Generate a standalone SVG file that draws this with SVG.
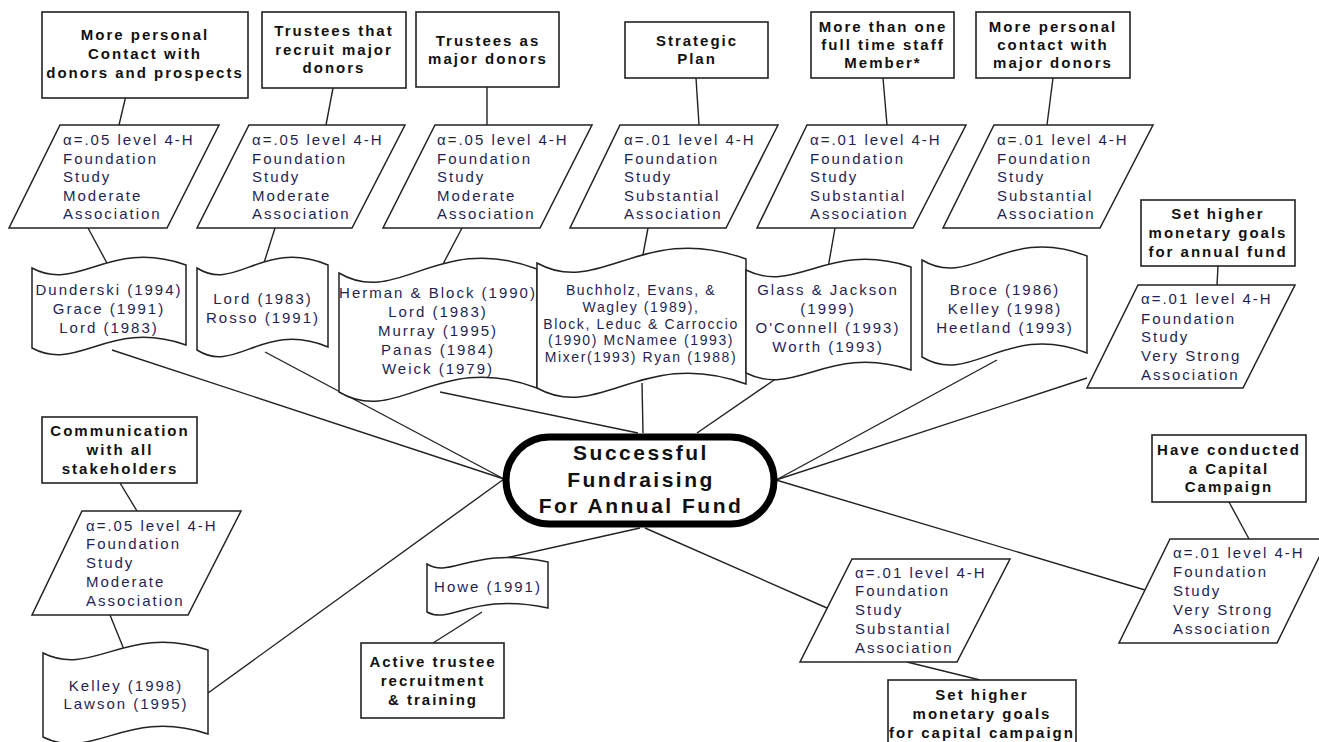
<svg xmlns="http://www.w3.org/2000/svg" width="1319" height="742" viewBox="0 0 1319 742">
<style>
.bg{fill:#ffffff}
.box{fill:#fff;stroke:#222;stroke-width:1.6}
.par{fill:#fff;stroke:#222;stroke-width:1.5}
.doc{fill:#fff;stroke:#222;stroke-width:1.5}
.ctr{fill:#fff;stroke:#000;stroke-width:7}
.ln{stroke:#222;stroke-width:1.4;fill:none}
.bt{font-family:"Liberation Sans",Arial,sans-serif;font-size:15px;font-weight:bold;fill:#111;letter-spacing:2px;text-anchor:middle}
.pt{font-family:"Liberation Sans",Arial,sans-serif;font-size:15px;fill:#1f1f55;letter-spacing:2px}
.dt{font-family:"Liberation Sans",Arial,sans-serif;font-size:15px;fill:#1f1f55;letter-spacing:2px;text-anchor:middle}
.dts{font-family:"Liberation Sans",Arial,sans-serif;font-size:14px;fill:#1f1f55;letter-spacing:1.6px;text-anchor:middle}
.ct{font-family:"Liberation Sans",Arial,sans-serif;font-size:21px;font-weight:bold;fill:#111;letter-spacing:2.5px;text-anchor:middle}
</style>
<rect class="bg" x="0" y="0" width="1319" height="742"/>
<g id="connectors">
<line class="ln" x1="128" y1="87" x2="119" y2="125"/>
<line class="ln" x1="88" y1="228" x2="108" y2="265"/>
<line class="ln" x1="112" y1="350" x2="504" y2="479"/>
<line class="ln" x1="333" y1="88" x2="326" y2="125"/>
<line class="ln" x1="275" y1="228" x2="263" y2="266"/>
<line class="ln" x1="265" y1="352" x2="504" y2="479"/>
<line class="ln" x1="487" y1="87" x2="487" y2="125"/>
<line class="ln" x1="462" y1="228" x2="442" y2="266"/>
<line class="ln" x1="440" y1="392" x2="638" y2="433"/>
<line class="ln" x1="696" y1="78" x2="699" y2="125"/>
<line class="ln" x1="648" y1="228" x2="642" y2="260"/>
<line class="ln" x1="642" y1="383" x2="643" y2="433"/>
<line class="ln" x1="883" y1="78" x2="887" y2="125"/>
<line class="ln" x1="835" y1="228" x2="828" y2="268"/>
<line class="ln" x1="777" y1="378" x2="697" y2="433"/>
<line class="ln" x1="1053" y1="78" x2="1047" y2="125"/>
<line class="ln" x1="997" y1="360" x2="776" y2="480"/>
<line class="ln" x1="1218" y1="266" x2="1217" y2="285"/>
<line class="ln" x1="1087" y1="378" x2="776" y2="480"/>
<line class="ln" x1="1229" y1="502" x2="1249" y2="539"/>
<line class="ln" x1="1145" y1="590" x2="776" y2="480"/>
<line class="ln" x1="827" y1="608" x2="645" y2="528"/>
<line class="ln" x1="907" y1="662" x2="980" y2="680"/>
<line class="ln" x1="488" y1="562" x2="640" y2="528"/>
<line class="ln" x1="482" y1="612" x2="433" y2="643"/>
<line class="ln" x1="208" y1="693" x2="504" y2="479"/>
<line class="ln" x1="120" y1="483" x2="137" y2="511"/>
<line class="ln" x1="110" y1="615" x2="125" y2="652"/>
</g>

<g id="box-contact-donors">
<rect class="box" x="42" y="12" width="206" height="86"/>
<text class="bt" x="145" y="40">More personal</text>
<text class="bt" x="145" y="59">Contact with</text>
<text class="bt" x="145" y="78">donors and prospects</text>
</g>
<g id="box-trustees-recruit">
<rect class="box" x="262" y="12" width="144" height="76"/>
<text class="bt" x="334" y="36">Trustees that</text>
<text class="bt" x="334" y="55">recruit major</text>
<text class="bt" x="334" y="73">donors</text>
</g>
<g id="box-trustees-donors">
<rect class="box" x="416" y="12" width="143" height="75"/>
<text class="bt" x="488" y="46">Trustees as</text>
<text class="bt" x="488" y="64">major donors</text>
</g>
<g id="box-strategic">
<rect class="box" x="625" y="22" width="143" height="56"/>
<text class="bt" x="697" y="46">Strategic</text>
<text class="bt" x="697" y="64">Plan</text>
</g>
<g id="box-staff">
<rect class="box" x="811" y="12" width="143" height="66"/>
<text class="bt" x="883" y="32">More than one</text>
<text class="bt" x="883" y="50">full time staff</text>
<text class="bt" x="883" y="68">Member*</text>
</g>
<g id="box-contact-major">
<rect class="box" x="976" y="12" width="154" height="66"/>
<text class="bt" x="1053" y="32">More personal</text>
<text class="bt" x="1053" y="50">contact with</text>
<text class="bt" x="1053" y="68">major donors</text>
</g>

<g id="par-1">
<polygon class="par" points="60,125 219,125 167,228 9,228"/>
<text class="pt" x="63" y="145">α=.05 level 4-H</text>
<text class="pt" x="63" y="164">Foundation</text>
<text class="pt" x="63" y="182">Study</text>
<text class="pt" x="63" y="201">Moderate</text>
<text class="pt" x="63" y="219">Association</text>
</g>
<g id="par-2">
<polygon class="par" points="249,125 405,125 352,228 197,228"/>
<text class="pt" x="252" y="145">α=.05 level 4-H</text>
<text class="pt" x="252" y="164">Foundation</text>
<text class="pt" x="252" y="182">Study</text>
<text class="pt" x="252" y="201">Moderate</text>
<text class="pt" x="252" y="219">Association</text>
</g>
<g id="par-3">
<polygon class="par" points="435,125 592,125 540,228 383,228"/>
<text class="pt" x="437" y="145">α=.05 level 4-H</text>
<text class="pt" x="437" y="164">Foundation</text>
<text class="pt" x="437" y="182">Study</text>
<text class="pt" x="437" y="201">Moderate</text>
<text class="pt" x="437" y="219">Association</text>
</g>
<g id="par-4">
<polygon class="par" points="620,125 778,125 726,228 570,228"/>
<text class="pt" x="624" y="145">α=.01 level 4-H</text>
<text class="pt" x="624" y="164">Foundation</text>
<text class="pt" x="624" y="182">Study</text>
<text class="pt" x="624" y="201">Substantial</text>
<text class="pt" x="624" y="219">Association</text>
</g>
<g id="par-5">
<polygon class="par" points="807,125 966,125 913,228 757,228"/>
<text class="pt" x="810" y="145">α=.01 level 4-H</text>
<text class="pt" x="810" y="164">Foundation</text>
<text class="pt" x="810" y="182">Study</text>
<text class="pt" x="810" y="201">Substantial</text>
<text class="pt" x="810" y="219">Association</text>
</g>
<g id="par-6">
<polygon class="par" points="994,125 1153,125 1100,228 943,228"/>
<text class="pt" x="997" y="145">α=.01 level 4-H</text>
<text class="pt" x="997" y="164">Foundation</text>
<text class="pt" x="997" y="182">Study</text>
<text class="pt" x="997" y="201">Substantial</text>
<text class="pt" x="997" y="219">Association</text>
</g>

<g id="doc-dunderski">
<path class="doc" d="M32,268 C78,293 109,238 186,265 L186,345 C109,318 78,373 32,348 Z"/>
<text class="dt" x="109" y="295">Dunderski (1994)</text>
<text class="dt" x="109" y="314">Grace (1991)</text>
<text class="dt" x="109" y="333">Lord (1983)</text>
</g>
<g id="doc-lord">
<path class="doc" d="M197,268 C236,293 263,238 328,265 L328,347 C263,320 236,375 197,350 Z"/>
<text class="dt" x="263" y="304">Lord (1983)</text>
<text class="dt" x="263" y="323">Rosso (1991)</text>
</g>
<g id="doc-herman">
<path class="doc" d="M339,273 C398,308 438,231 537,269 L537,388 C438,350 398,427 339,392 Z"/>
<text class="dt" x="438" y="298">Herman &amp; Block (1990)</text>
<text class="dt" x="438" y="317">Lord (1983)</text>
<text class="dt" x="438" y="336">Murray (1995)</text>
<text class="dt" x="438" y="355">Panas (1984)</text>
<text class="dt" x="438" y="374">Weick (1979)</text>
</g>
<g id="doc-buchholz">
<path class="doc" d="M537,263 C600,298 642,221 746,259 L746,384 C642,346 600,423 537,388 Z"/>
<text class="dts" x="641" y="295">Buchholz, Evans, &amp;</text>
<text class="dts" x="641" y="312">Wagley (1989),</text>
<text class="dts" x="641" y="329">Block, Leduc &amp; Carroccio</text>
<text class="dts" x="641" y="345">(1990) McNamee (1993)</text>
<text class="dts" x="641" y="362">Mixer(1993) Ryan (1988)</text>
</g>
<g id="doc-glass">
<path class="doc" d="M746,270 C796,295 828,240 911,267 L911,370 C828,343 796,398 746,373 Z"/>
<text class="dt" x="828" y="295">Glass &amp; Jackson</text>
<text class="dt" x="828" y="314">(1999)</text>
<text class="dt" x="828" y="333">O'Connell (1993)</text>
<text class="dt" x="828" y="352">Worth (1993)</text>
</g>
<g id="doc-broce">
<path class="doc" d="M922,260 C972,290 1005,224 1087,256 L1087,353 C1005,321 972,387 922,357 Z"/>
<text class="dt" x="1005" y="295">Broce (1986)</text>
<text class="dt" x="1005" y="314">Kelley (1998)</text>
<text class="dt" x="1005" y="333">Heetland (1993)</text>
</g>

<g id="box-goals-annual">
<rect class="box" x="1141" y="200" width="154" height="66"/>
<text class="bt" x="1218" y="219">Set higher</text>
<text class="bt" x="1218" y="238">monetary goals</text>
<text class="bt" x="1218" y="257">for annual fund</text>
</g>
<g id="par-7">
<polygon class="par" points="1138,285 1295,285 1243,388 1087,388"/>
<text class="pt" x="1141" y="304">α=.01 level 4-H</text>
<text class="pt" x="1141" y="324">Foundation</text>
<text class="pt" x="1141" y="342">Study</text>
<text class="pt" x="1141" y="361">Very Strong</text>
<text class="pt" x="1141" y="380">Association</text>
</g>

<g id="center">
<rect class="ctr" x="506" y="437" width="268" height="87" rx="43.5" ry="43.5"/>
<text class="ct" x="641" y="460">Successful</text>
<text class="ct" x="641" y="487">Fundraising</text>
<text class="ct" x="641" y="513">For Annual Fund</text>
</g>

<g id="box-capital">
<rect class="box" x="1152" y="435" width="154" height="67"/>
<text class="bt" x="1229" y="455">Have conducted</text>
<text class="bt" x="1229" y="474">a Capital</text>
<text class="bt" x="1229" y="492">Campaign</text>
</g>
<g id="par-8">
<polygon class="par" points="1170,539 1328,539 1277,643 1119,643"/>
<text class="pt" x="1173" y="558">α=.01 level 4-H</text>
<text class="pt" x="1173" y="577">Foundation</text>
<text class="pt" x="1173" y="596">Study</text>
<text class="pt" x="1173" y="615">Very Strong</text>
<text class="pt" x="1173" y="634">Association</text>
</g>
<g id="par-9">
<polygon class="par" points="852,559 1010,559 957,662 800,662"/>
<text class="pt" x="855" y="578">α=.01 level 4-H</text>
<text class="pt" x="855" y="596">Foundation</text>
<text class="pt" x="855" y="615">Study</text>
<text class="pt" x="855" y="634">Substantial</text>
<text class="pt" x="855" y="653">Association</text>
</g>
<g id="box-goals-capital">
<rect class="box" x="888" y="680" width="188" height="70"/>
<text class="bt" x="982" y="700">Set higher</text>
<text class="bt" x="982" y="719">monetary goals</text>
<text class="bt" x="982" y="738">for capital campaign</text>
</g>

<g id="doc-howe">
<path class="doc" d="M427,564 C451,579 472,546 548,562 L548,608 C472,592 451,625 427,612 Z"/>
<text class="dt" x="488" y="592">Howe (1991)</text>
</g>
<g id="box-active">
<rect class="box" x="361" y="643" width="143" height="75"/>
<text class="bt" x="433" y="667">Active trustee</text>
<text class="bt" x="433" y="686">recruitment</text>
<text class="bt" x="433" y="705">&amp; training</text>
</g>

<g id="box-communication">
<rect class="box" x="42" y="417" width="155" height="66"/>
<text class="bt" x="120" y="436">Communication</text>
<text class="bt" x="120" y="455">with all</text>
<text class="bt" x="120" y="474">stakeholders</text>
</g>
<g id="par-10">
<polygon class="par" points="82,511 241,511 188,615 32,615"/>
<text class="pt" x="86" y="531">α=.05 level 4-H</text>
<text class="pt" x="86" y="549">Foundation</text>
<text class="pt" x="86" y="568">Study</text>
<text class="pt" x="86" y="587">Moderate</text>
<text class="pt" x="86" y="606">Association</text>
</g>
<g id="doc-kelley">
<path class="doc" d="M43,653 C93,678 126,623 208,650 L208,734 C126,707 93,762 43,737 Z"/>
<text class="dt" x="126" y="691">Kelley (1998)</text>
<text class="dt" x="126" y="709">Lawson (1995)</text>
</g>
</svg>
